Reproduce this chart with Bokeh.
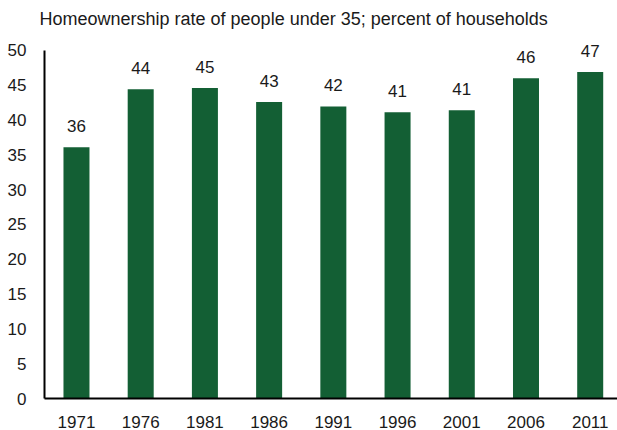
from bokeh.plotting import figure
from bokeh.models import ColumnDataSource, FixedTicker, Range1d
from bokeh.core.properties import value
from bokeh.embed import file_html
from bokeh.resources import INLINE

years = ["1971", "1976", "1981", "1986", "1991", "1996", "2001", "2006", "2011"]
rates = [36.1, 44.4, 44.6, 42.6, 41.95, 41.1, 41.4, 46.0, 46.9]
labels = ["36", "44", "45", "43", "42", "41", "41", "46", "47"]
y_ticks = [0, 5, 10, 15, 20, 25, 30, 35, 40, 45, 50]

FONT = "Liberation Sans"
GREEN = "#135f34"
TXT = "#1a1a1a"

xs = list(range(len(years)))
src = ColumnDataSource(dict(x=xs, top=rates, label=labels))

p = figure(width=617, height=430, output_backend="svg", toolbar_location=None,
           x_range=Range1d(-0.498, 8.425), y_range=Range1d(0, 372 / 7),
           min_border_left=44, min_border_right=0, min_border_top=28,
           min_border_bottom=30)
p.title.text = "Homeownership rate of people under 35; percent of households"
p.title.text_font = FONT
p.title.text_font_size = "18px"
p.title.text_font_style = "normal"
p.title.text_color = TXT
p.title.offset = -5
p.title.standoff = 0

p.vbar(x="x", top="top", width=0.405, bottom=0, source=src, fill_color=GREEN,
       line_color=None)
p.text(x="x", y="top", text="label", source=src, y_offset=-21,
       text_align="center", text_baseline="middle", text_font=value(FONT),
       text_font_size="17px", text_color=TXT)

p.xgrid.visible = False
p.ygrid.visible = False
p.outline_line_color = None

for ax in (p.xaxis[0], p.yaxis[0]):
    ax.axis_line_color = "black"
    ax.axis_line_width = 2
    ax.major_tick_line_color = None
    ax.minor_tick_line_color = None
    ax.major_label_text_font = FONT
    ax.major_label_text_font_size = "17px"
    ax.major_label_text_color = TXT

p.xaxis.ticker = FixedTicker(ticks=xs)
p.xaxis.major_label_overrides = {i: y for i, y in enumerate(years)}
p.xaxis.major_label_standoff = 11
p.yaxis.ticker = FixedTicker(ticks=y_ticks)
p.yaxis.bounds = (0, 50)
p.yaxis.major_label_standoff = 12

open("out.html", "w").write(file_html(p, INLINE))
